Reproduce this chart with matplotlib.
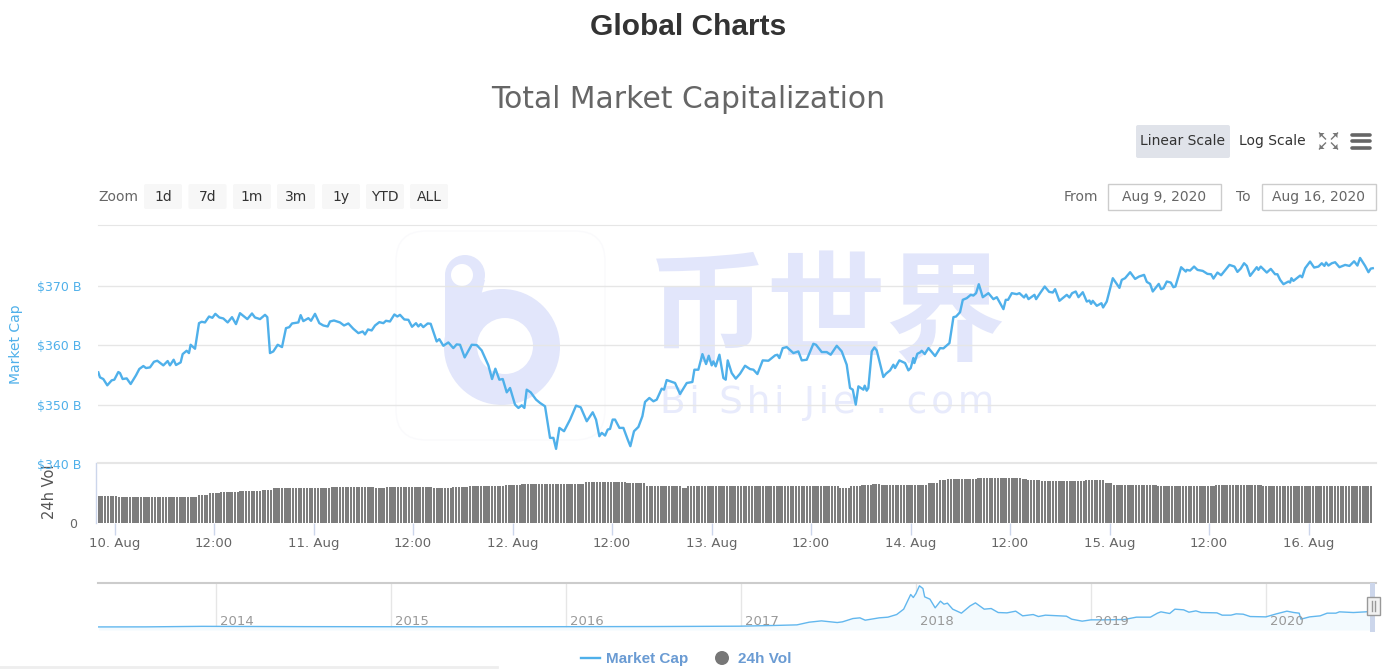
import numpy as np
import matplotlib
matplotlib.use('Agg')
import matplotlib.pyplot as plt
from matplotlib.patches import Circle, Polygon, Rectangle, FancyBboxPatch

# market cap, hours after 10 Aug 00:00 and $B
cap_hours = [
    -1.95, -1.75, -1.35, -0.87, -0.34, -0.02, 0.46, 0.66, 0.98, 1.47, 1.95, 2.59, 2.99, 3.48, 3.80, 4.28,
    4.76, 5.16, 5.89, 6.41, 6.69, 7.13, 7.42, 7.98, 8.22, 8.70, 8.98, 9.18, 9.71, 10.19, 10.51, 10.91,
    11.40, 11.80, 12.16, 12.64, 13.12, 13.65, 14.17, 14.65, 15.13, 16.02, 16.58, 16.94, 17.55, 18.15, 18.43, 18.75,
    19.15, 19.68, 20.20, 20.68, 21.08, 21.41, 22.17, 22.45, 22.77, 23.38, 23.70, 24.18, 24.70, 25.18, 25.71, 25.99,
    26.47, 27.19, 27.68, 28.20, 28.80, 29.41, 29.93, 30.21, 30.57, 31.01, 31.42, 31.94, 32.42, 32.74, 33.22, 33.75,
    34.11, 34.43, 34.95, 35.44, 35.88, 36.36, 36.64, 36.92, 37.24, 37.77, 38.13, 38.85, 39.17, 39.66, 40.26, 40.86,
    41.26, 41.67, 42.23, 43.08, 43.68, 44.28, 45.09, 45.53, 45.93, 46.41, 46.82, 47.30, 47.70, 48.30, 48.71, 49.11,
    49.43, 49.71, 50.19, 50.84, 51.32, 51.92, 52.52, 52.93, 53.25, 53.65, 54.21, 54.94, 55.66, 56.22, 56.95, 57.67,
    58.07, 58.47, 58.76, 59.16, 59.48, 59.76, 60.08, 60.36, 60.89, 61.37, 61.89, 62.21, 62.65, 63.18, 63.66, 63.98,
    64.50, 64.99, 65.39, 65.99, 66.27, 66.59, 67.60, 68.20, 69.01, 69.69, 69.93, 70.41, 70.90, 71.34, 71.66, 72.02,
    72.22, 72.50, 72.95, 73.43, 73.71, 73.95, 74.43, 74.92, 75.44, 76.04, 76.64, 77.05, 77.53, 78.17, 78.86, 79.66,
    79.94, 80.18, 80.58, 81.07, 81.87, 82.47, 82.88, 83.48, 84.28, 84.60, 85.29, 85.89, 86.37, 87.10, 87.70, 88.30,
    88.70, 89.03, 89.39, 89.71, 90.31, 90.47, 90.71, 90.91, 91.32, 91.64, 91.92, 92.40, 92.72, 93.04, 93.53, 93.93,
    94.13, 94.65, 95.34, 95.74, 96.02, 96.34, 96.46, 96.82, 97.15, 97.35, 97.71, 98.16, 98.96, 99.56, 99.96, 100.69,
    101.17, 101.49, 101.97, 102.30, 102.78, 103.26, 103.58, 103.90, 104.23, 104.71, 105.39, 105.99, 106.40, 107.20, 107.48, 107.76,
    108.21, 108.81, 109.13, 109.69, 109.93, 110.22, 110.54, 110.94, 111.14, 111.62, 112.18, 112.71, 113.15, 113.43, 113.95, 114.84,
    115.16, 115.48, 115.92, 116.25, 116.77, 117.25, 117.57, 117.77, 117.97, 118.46, 119.02, 119.22, 119.66, 120.39, 121.19, 121.47,
    121.87, 122.48, 123.08, 123.56, 124.16, 124.49, 124.89, 125.21, 125.93, 126.21, 126.50, 126.90, 127.38, 127.70, 127.94, 128.63,
    129.19, 129.31, 129.71, 130.19, 130.60, 131.24, 131.80, 132.24, 132.53, 133.01, 133.45, 134.46, 135.06, 135.42, 135.82, 136.22,
    136.55, 136.95, 137.75, 137.95, 138.23, 138.96, 139.44, 139.96, 140.24, 140.57, 140.97, 141.57, 141.77, 141.93, 142.17, 142.98,
    143.22, 143.58, 144.18, 144.67, 145.19, 145.59, 145.91, 146.11, 146.39, 146.80, 147.20, 147.72, 148.41, 148.93, 149.49, 149.89,
    150.21, 150.82, 151.22, 151.50, 151.74,
]
cap_values = [
    355.43, 354.59, 354.31, 353.25, 354.09, 354.20, 355.49, 355.32, 354.31, 354.42, 353.47, 354.93, 356.00, 356.50, 356.16, 356.27,
    357.22, 357.39, 356.61, 357.34, 356.61, 357.56, 356.67, 357.11, 358.51, 359.07, 358.68, 360.08, 359.41, 363.72, 363.95, 363.84,
    364.84, 364.62, 365.29, 364.68, 364.51, 363.84, 364.73, 363.56, 365.40, 364.40, 365.35, 364.68, 364.40, 365.12, 364.73, 358.68,
    358.96, 360.08, 359.69, 362.88, 363.05, 363.67, 363.84, 365.07, 364.06, 364.56, 364.12, 365.29, 363.72, 363.33, 363.16, 364.00,
    364.17, 363.84, 363.33, 363.67, 362.77, 362.04, 362.32, 361.82, 362.66, 362.49, 363.33, 363.89, 363.72, 364.12, 364.00, 365.18,
    364.84, 365.12, 364.34, 364.28, 363.11, 363.72, 363.16, 363.56, 363.05, 363.67, 363.61, 360.64, 361.03, 359.91, 360.47, 359.52,
    360.14, 360.08, 357.95, 360.08, 360.03, 359.13, 356.61, 354.31, 356.05, 354.20, 354.31, 352.07, 352.80, 350.00, 349.44, 349.89,
    349.44, 352.52, 352.07, 350.84, 350.28, 349.72, 344.40, 344.40, 342.55, 346.08, 345.52, 347.48, 349.83, 349.55, 347.20, 348.71,
    347.48, 344.68, 345.24, 344.79, 345.80, 345.91, 347.48, 347.48, 346.08, 346.08, 344.12, 343.00, 345.52, 346.24, 348.04, 350.45,
    351.12, 350.56, 350.84, 352.69, 352.52, 354.14, 353.64, 351.79, 353.64, 353.81, 355.88, 355.88, 358.51, 356.83, 358.23, 356.61,
    357.28, 356.44, 358.40, 354.48, 354.20, 357.45, 355.32, 354.37, 355.21, 356.55, 355.99, 355.88, 355.15, 357.45, 357.39, 358.29,
    358.40, 357.84, 359.52, 359.69, 358.68, 358.96, 357.45, 357.56, 360.25, 360.08, 358.85, 358.85, 358.40, 359.91, 358.96, 356.72,
    352.80, 352.52, 350.00, 353.08, 352.52, 353.19, 352.35, 352.80, 358.96, 359.63, 359.13, 356.44, 354.65, 355.21, 355.77, 356.72,
    356.16, 357.45, 357.00, 355.77, 356.16, 357.84, 357.00, 358.57, 358.79, 359.07, 358.51, 359.52, 358.18, 359.52, 359.47, 360.36,
    364.73, 364.84, 365.57, 367.65, 367.93, 368.49, 368.37, 368.77, 370.28, 368.09, 368.77, 367.76, 368.09, 366.08, 367.65, 367.65,
    368.77, 368.60, 368.77, 368.04, 368.54, 367.76, 368.09, 368.49, 367.76, 368.77, 369.89, 368.99, 368.88, 369.44, 367.48, 368.49,
    368.04, 368.77, 369.05, 368.09, 368.93, 367.36, 367.53, 366.97, 367.48, 366.64, 367.08, 366.36, 367.36, 371.29, 369.66, 371.01,
    371.29, 372.30, 371.17, 371.57, 371.85, 370.67, 370.33, 369.05, 370.33, 369.44, 369.61, 370.73, 370.56, 369.77, 369.89, 373.14,
    372.41, 372.69, 372.58, 373.25, 372.69, 372.52, 372.02, 371.96, 371.23, 372.24, 371.79, 373.53, 373.25, 372.35, 372.91, 373.81,
    373.36, 371.68, 373.14, 372.69, 373.25, 372.24, 372.86, 371.96, 371.96, 371.01, 370.28, 370.73, 370.56, 371.29, 370.84, 371.73,
    371.45, 372.97, 374.09, 373.08, 373.25, 373.81, 373.36, 373.92, 373.42, 373.81, 373.98, 373.14, 373.53, 373.36, 374.14, 373.42,
    374.70, 373.36, 372.30, 372.91, 372.97,
]

# 24h volume, $B level and how many 20 minute bars stay at it
vol_levels = [82, 78, 85.5, 91, 93, 96, 99, 104, 108, 105, 108, 104, 108, 111, 114, 118, 122, 124, 119, 121, 112, 106,
              111, 106, 111, 115, 118, 114, 121, 129, 132, 136, 132, 129, 125, 127, 129, 119, 114, 115, 111, 114, 115, 111]
vol_counts = [7, 29, 4, 4, 7, 8, 4, 21, 16, 4, 17, 7, 6, 13, 6, 23, 6, 9, 5, 2, 13, 2,
              55, 4, 4, 4, 3, 17, 4, 3, 11, 16, 2, 5, 11, 5, 7, 3, 5, 11, 21, 9, 8, 40]

# navigator series, whole history
nav_years = [2013.33, 2013.6, 2013.92, 2014.5, 2015.5, 2016.0, 2016.5, 2016.99, 2017.18, 2017.32, 2017.39, 2017.46,
             2017.55, 2017.58, 2017.64, 2017.68, 2017.71, 2017.79, 2017.84, 2017.89, 2017.93, 2017.97, 2017.985, 2018.00,
             2018.02, 2018.04, 2018.05, 2018.08, 2018.11, 2018.14, 2018.16, 2018.18, 2018.21, 2018.26, 2018.31, 2018.34,
             2018.39, 2018.43, 2018.47, 2018.52, 2018.57, 2018.61, 2018.67, 2018.70, 2018.74, 2018.86, 2018.89, 2018.95,
             2019.00, 2019.07, 2019.19, 2019.26, 2019.34, 2019.38, 2019.40, 2019.45, 2019.48, 2019.53, 2019.56, 2019.60,
             2019.63, 2019.72, 2019.75, 2019.80, 2019.83, 2019.87, 2019.91, 2020.00, 2020.06, 2020.12, 2020.16, 2020.19,
             2020.20, 2020.25, 2020.31, 2020.35, 2020.40, 2020.42, 2020.50, 2020.57, 2020.61]
nav_values = [2, 3, 14, 8, 4, 7, 10, 17, 31, 44, 99, 126,
              92, 106, 174, 188, 140, 188, 202, 256, 366, 666, 605, 687,
              844, 789, 618, 571, 393, 530, 468, 489, 366, 284, 434, 495,
              366, 379, 297, 290, 325, 229, 256, 215, 243, 222, 161, 120,
              147, 147, 154, 202, 202, 284, 311, 277, 366, 352, 304, 331,
              297, 290, 243, 243, 270, 263, 215, 208, 270, 325, 297, 284,
              161, 208, 229, 284, 284, 311, 297, 311, 325]

cap_ticks = [340, 350, 360, 370]
cap_tick_labels = ['$340 B', '$350 B', '$360 B', '$370 B']
time_ticks = [0, 12, 24, 36, 48, 60, 72, 84, 96, 108, 120, 132, 144]
time_tick_labels = ['10. Aug', '12:00', '11. Aug', '12:00', '12. Aug', '12:00', '13. Aug', '12:00',
                    '14. Aug', '12:00', '15. Aug', '12:00', '16. Aug']
nav_ticks = [2014, 2015, 2016, 2017, 2018, 2019, 2020]
zoom_labels = ['1d', '7d', '1m', '3m', '1y', 'YTD', 'ALL']

W, H = 1394, 669
BLUE = '#4fb0ea'
GRID = '#e6e6e6'
AXIS_BLUE = '#ccd6eb'
MARK = '#e2e6fb'


def px_axes(fig, left, top, right, bottom):
    return fig.add_axes([left / W, 1 - bottom / H, (right - left) / W, (bottom - top) / H])


fig = plt.figure(figsize=(W / 100, H / 100), dpi=100, facecolor='white')

# page layer in pixel coordinates, sits behind the charts
page = fig.add_axes([0, 0, 1, 1], zorder=0)
page.set_xlim(0, W)
page.set_ylim(H, 0)
page.axis('off')

page.text(688, 27, 'Global Charts', ha='center', va='center', fontsize=21.5, fontweight='bold',
          family='Liberation Sans', color='#333333')
page.text(688, 100, 'Total Market Capitalization', ha='center', va='center', fontsize=21.4, color='#666666')

# watermark
page.add_patch(FancyBboxPatch((396, 231), 209, 209, boxstyle='round,pad=0,rounding_size=30', fc='white',
                              ec='#fafafc', lw=1))
page.add_patch(Circle((465, 275), 20, fc=MARK, ec='none'))
page.add_patch(Polygon([(445, 275), (485, 280), (480, 300), (445, 347)], fc=MARK, ec='none'))
page.add_patch(Circle((502, 347), 58, fc=MARK, ec='none'))
page.add_patch(Circle((505, 346), 28, fc='white', ec='none'))
page.add_patch(Circle((462, 275), 11, fc='white', ec='none'))
page.text(827, 316, '币世界', ha='center', va='center', fontsize=86, color=MARK, fontweight='bold',
          family=['Noto Sans CJK SC', 'DejaVu Sans'])
page.text(827, 403, '\u200a'.join('Bi Shi Jie . com'), ha='center', va='center', fontsize=27, color='#e8ebfc')

# range selector and scale buttons
zoom_x = [163, 207.5, 252, 296, 341, 385, 429]
page.text(118, 197, 'Zoom', ha='center', va='center', fontsize=10, color='#666666')
for x, label in zip(zoom_x, zoom_labels):
    page.add_patch(FancyBboxPatch((x - 19, 184), 38, 25, boxstyle='round,pad=0,rounding_size=2', fc='#f7f7f7', ec='none'))
    page.text(x, 197, label, ha='center', va='center', fontsize=10, color='#333333')

page.add_patch(FancyBboxPatch((1136, 125), 94, 33, boxstyle='round,pad=0,rounding_size=2', fc='#e0e3ea', ec='none'))
page.text(1182, 141, 'Linear Scale', ha='center', va='center', fontsize=10, color='#333333')
page.text(1272, 141, 'Log Scale', ha='center', va='center', fontsize=10, color='#333333')

# fullscreen icon
for sx, sy in [(-1, -1), (1, -1), (-1, 1), (1, 1)]:
    cx, cy = 1328.5 + 9 * sx, 141 + 8 * sy
    page.add_patch(Polygon([(cx, cy), (cx - 5 * sx, cy), (cx, cy - 5 * sy)], fc='#777777', ec='none'))
    page.plot([cx, cx - 6 * sx], [cy, cy - 6 * sy], color='#777777', lw=1)
# menu icon
for y in [134.5, 141, 147.5]:
    page.plot([1352, 1370], [y, y], color='#666666', lw=2.6, solid_capstyle='round')

page.text(1081, 197, 'From', ha='center', va='center', fontsize=10, color='#666666')
page.add_patch(Rectangle((1108, 184), 113, 26, fc='white', ec='#cccccc', lw=1))
page.text(1164, 197, 'Aug 9, 2020', ha='center', va='center', fontsize=10, color='#666666')
page.text(1243, 197, 'To', ha='center', va='center', fontsize=10, color='#666666')
page.add_patch(Rectangle((1262, 184), 114, 26, fc='white', ec='#cccccc', lw=1))
page.text(1318, 197, 'Aug 16, 2020', ha='center', va='center', fontsize=10, color='#666666')

# legend row
page.plot([581, 600], [658, 658], color=BLUE, lw=1.7)
page.text(606, 659, 'Market Cap', ha='left', va='center', fontsize=11, fontweight='bold',
          family='Liberation Sans', color='#6a9bd3')
page.add_patch(Circle((722, 658), 7, fc='#777777', ec='none'))
page.text(738, 659, '24h Vol', ha='left', va='center', fontsize=11, fontweight='bold',
          family='Liberation Sans', color='#6a9bd3')
page.plot([0, 497], [667, 667], color='#eeeeee', lw=2)

# axis titles
page.text(16, 344, 'Market Cap', rotation=90, ha='center', va='center', fontsize=10, color=BLUE)
page.text(50, 492, '24h Vol', rotation=90, ha='center', va='center', fontsize=10.5, color='#555555')

# main price panel
ax = px_axes(fig, 98, 225, 1376, 464)
ax.set_zorder(2)
ax.patch.set_visible(False)
ax.plot(cap_hours, cap_values, color=BLUE, lw=1.7, solid_joinstyle='round')
ax.set_xlim(-1.99, 152.13)
ax.set_ylim(340, 380.25)
ax.set_xticks([])
ax.set_yticks(cap_ticks)
ax.set_yticklabels(cap_tick_labels, color=BLUE, fontsize=9)
ax.tick_params(axis='y', length=0, pad=12)
ax.grid(axis='y', color=GRID, lw=1)
ax.set_axisbelow(True)
for name in ['left', 'right', 'bottom']:
    ax.spines[name].set_visible(False)
ax.spines['top'].set_color(GRID)

# volume panel
vol = np.repeat(vol_levels, vol_counts)
vol_hours = -1.8 + np.arange(len(vol)) / 3

ax2 = px_axes(fig, 98, 463, 1376, 523)
ax2.set_zorder(3)
ax2.patch.set_visible(False)
ax2.bar(vol_hours, vol, width=0.26, color='#7d7d7d')
ax2.set_xlim(-1.99, 152.13)
ax2.set_ylim(0, 180)
ax2.set_yticks([0])
ax2.set_yticklabels(['0'], color='#666666', fontsize=9)
ax2.tick_params(axis='y', length=0, pad=15)
ax2.set_xticks(time_ticks)
ax2.set_xticklabels(time_tick_labels, color='#666666', fontsize=9.5)
ax2.tick_params(axis='x', length=8.5, color=AXIS_BLUE, width=1, pad=1.5)
for name in ['left', 'right', 'bottom']:
    ax2.spines[name].set_visible(False)
ax2.spines['top'].set_color(GRID)
ax2.spines['top'].set_linewidth(1.5)
page.plot([95.5, 95.5], [463, 523], color=AXIS_BLUE, lw=1)

# navigator
ax3 = px_axes(fig, 98, 583, 1376, 630)
ax3.set_zorder(2)
ax3.patch.set_visible(False)
ax3.fill_between(nav_years, nav_values, -61, color='#f3fafe', lw=0)
ax3.plot(nav_years, nav_values, color='#62b7ee', lw=1)
ax3.set_xlim(2013.326, 2020.629)
ax3.set_ylim(-61, 902)
ax3.set_yticks([])
ax3.set_xticks(nav_ticks)
ax3.set_xticklabels([])
ax3.tick_params(axis='x', length=0)
ax3.grid(axis='x', color=GRID, lw=1)
ax3.set_axisbelow(True)
for year in nav_ticks:
    ax3.annotate(str(year), (year, 0), xytext=(3, 4), textcoords='offset points', ha='left', va='center',
                 fontsize=9.5, color='#999999')
for name in ['left', 'right', 'bottom']:
    ax3.spines[name].set_visible(False)
ax3.spines['top'].set_color('#cccccc')
ax3.spines['top'].set_linewidth(1.5)

# navigator handle, above everything
top = fig.add_axes([0, 0, 1, 1], zorder=5)
top.set_xlim(0, W)
top.set_ylim(H, 0)
top.axis('off')
top.add_patch(Rectangle((1370, 583), 5, 49, fc=AXIS_BLUE, ec='none'))
top.add_patch(Rectangle((1366.5, 597), 13, 18, fc='#f2f2f2', ec='#999999', lw=1))
for x in [1371.5, 1374.5]:
    top.plot([x, x], [601, 611], color='#999999', lw=1)

fig.savefig('out.png', dpi=100)
